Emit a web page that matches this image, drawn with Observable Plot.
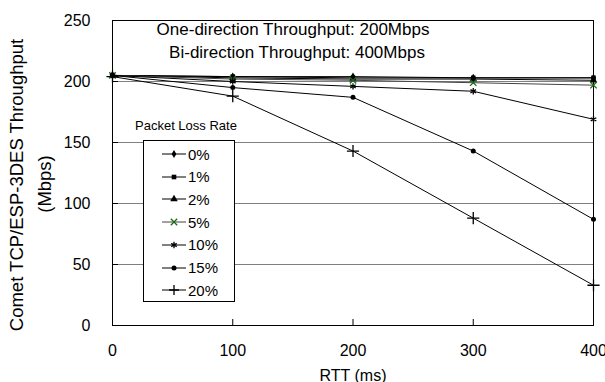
<!DOCTYPE html>
<html><head><meta charset="utf-8">
<script src="https://cdn.jsdelivr.net/npm/d3@7"></script>
<script src="https://cdn.jsdelivr.net/npm/@observablehq/plot@0.6"></script>
<style>
body{margin:0;background:#fff;font-family:"Liberation Sans",Arial,sans-serif;}
#wrap{position:relative;width:605px;height:382px;}
#legend{position:absolute;left:143px;top:140px;width:92px;height:162px;border:1px solid #000;background:#fff;box-sizing:border-box;}
#legtitle{position:absolute;left:135px;top:118px;font-size:13px;}
.row{position:absolute;left:18px;height:20px;display:flex;align-items:center;font-size:15px;}
.ylab{position:absolute;white-space:nowrap;font-size:18.5px;transform:translate(-50%,-50%) rotate(-90deg);}
</style></head>
<body><div id="wrap"></div>
<script>
const rtt = [0, 100, 200, 300, 400];
const seriesNames = ["0%", "1%", "2%", "5%", "10%", "15%", "20%"];
const loss0 = [205, 204, 204, 203, 203];
const loss1 = [205, 204, 203, 203, 203];
const loss2 = [205, 203, 202, 202, 201];
const loss5 = [205, 202, 201, 199, 197];
const loss10 = [205, 200, 196, 192, 169];
const loss15 = [205, 195, 187, 143, 87];
const loss20 = [204, 188, 143, 88, 33];
const yTicks = [0, 50, 100, 150, 200, 250];
const xTicks = [0, 100, 200, 300, 400];
const gridLines = [50, 100, 150, 200];
const titleLines = ["One-direction Throughput: 200Mbps", "Bi-direction Throughput: 400Mbps"];
const yLabelLines = ["Comet TCP/ESP-3DES Throughput", "(Mbps)"];
const xLabel = "RTT (ms)";

const allSeries = [loss0, loss1, loss2, loss5, loss10, loss15, loss20];
const symbols = ["diamond", "square", "triangle", "times", "asterisk", "circle", "plus"];
const markColor = ["#000", "#000", "#000", "#1a6a1a", "#000", "#000", "#000"];
const lineColor = ["#000", "#000", "#000", "#444", "#000", "#000", "#000"];
const markFill = [true, true, true, false, false, true, false];
const markR = [2.5, 2.6, 2.8, 3, 3, 2.5, 4];

const data = [];
allSeries.forEach((s, i) => s.forEach((v, j) => data.push({series: seriesNames[i], idx: i, rtt: rtt[j], v})));

const marks = [
  Plot.ruleY(gridLines, {stroke: "#7f7f7f", strokeWidth: 1}),
  Plot.frame({stroke: "#000"}),
  Plot.axisY({ticks: yTicks, tickSize: -6, tickPadding: 28, label: null, fontSize: 16}),
  Plot.axisX({ticks: xTicks, tickSize: -6, tickPadding: 25, label: null, fontSize: 16}),
];
seriesNames.forEach((name, i) => {
  const d = data.filter(r => r.idx === i);
  marks.push(Plot.line(d, {x: "rtt", y: "v", stroke: lineColor[i], strokeWidth: 1}));
  marks.push(Plot.dot(d, {x: "rtt", y: "v", symbol: () => symbols[i], r: markR[i],
    fill: markFill[i] ? markColor[i] : "none", stroke: markColor[i], strokeWidth: markFill[i] ? 0 : 1.3}));
});
marks.push(Plot.text([titleLines[0]], {text: d => d, frameAnchor: "top", dx: -60, dy: 9, fontSize: 17, lineAnchor: "middle"}));
marks.push(Plot.text([titleLines[1]], {text: d => d, frameAnchor: "top", dx: -56, dy: 32, fontSize: 17, lineAnchor: "middle"}));
marks.push(Plot.text([xLabel], {text: d => d, frameAnchor: "bottom", dy: 50, fontSize: 16, lineAnchor: "middle"}));

const chart = Plot.plot({
  width: 605, height: 382,
  marginLeft: 112, marginRight: 12, marginTop: 20, marginBottom: 57,
  x: {domain: [0, 400]},
  y: {domain: [0, 250]},
  style: {fontFamily: "Liberation Sans, Arial, sans-serif", color: "#000", background: "#fff", overflow: "visible"},
  marks
});
const wrap = document.getElementById("wrap");
wrap.appendChild(chart);

// Y label
[[17, 185], [45, 184]].forEach(([x, y], i) => {
  const el = document.createElement("div");
  el.className = "ylab";
  el.style.left = x + "px"; el.style.top = y + "px";
  el.textContent = yLabelLines[i];
  wrap.appendChild(el);
});

// Legend
const lt = document.createElement("div");
lt.id = "legtitle"; lt.textContent = "Packet Loss Rate";
wrap.appendChild(lt);
const leg = document.createElement("div");
leg.id = "legend";
wrap.appendChild(leg);
const symMap = {diamond: d3.symbolDiamond, square: d3.symbolSquare, triangle: d3.symbolTriangle, times: d3.symbolTimes, asterisk: d3.symbolAsterisk, circle: d3.symbolCircle, plus: d3.symbolPlus};
seriesNames.forEach((name, i) => {
  const row = document.createElement("div");
  row.className = "row";
  row.style.top = (3 + i * 22.7) + "px";
  const r = i === 6 ? 3.3 : markR[i];
  const path = d3.symbol(symMap[symbols[i]], Math.PI * r * r)();
  row.innerHTML = `<svg width="24" height="12" style="margin-right:2px"><line x1="0" x2="24" y1="6" y2="6" stroke="${lineColor[i]}" stroke-width="1"/><path transform="translate(12,6)" d="${path}" fill="${markFill[i] ? markColor[i] : "none"}" stroke="${markColor[i]}" stroke-width="${markFill[i] ? 0 : 1.3}"/></svg><span>${name}</span>`;
  leg.appendChild(row);
});
</script></body></html>
